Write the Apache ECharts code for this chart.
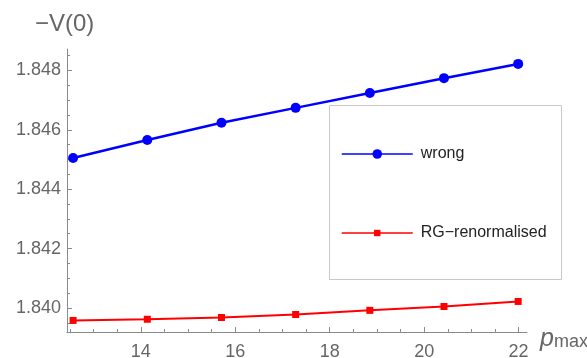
<!DOCTYPE html>
<html>
<head>
<meta charset="utf-8">
<script src="https://cdn.jsdelivr.net/npm/echarts@6/dist/echarts.min.js"></script>
<style>html,body{margin:0;padding:0;background:#fff;}#c{width:587px;height:358px;}</style>
</head>
<body>
<div id="c"></div>
<script>
const pMax = [12.566, 14.137, 15.708, 17.279, 18.850, 20.420, 21.991];
const wrongVals = [1.84505, 1.84566, 1.84624, 1.84674, 1.84724, 1.84774, 1.84822];
const rgVals = [1.83958, 1.83962, 1.83968, 1.83978, 1.83992, 1.84005, 1.84022];
const xTicks = [14, 16, 18, 20, 22];
const yTicks = [1.840, 1.842, 1.844, 1.846, 1.848];

const FONT = 'Liberation Sans, Arial, sans-serif';
const AXIS = '#8a8a8a';
const LABEL = '#666666';

const chart = echarts.init(document.getElementById('c'), null, {renderer: 'canvas'});
const legendCommon = {
  orient: 'vertical',
  left: 341,
  padding: 0,
  itemWidth: 71,
  selectedMode: false,
  textStyle: {fontFamily: FONT, fontSize: 16, color: '#222', padding: [0, 0, 0, 3]},
  lineStyle: {width: 1.5}
};
chart.setOption({
  animation: false,
  backgroundColor: '#fff',
  title: {
    text: '\u2212V(0)', left: 35, top: 12, padding: 0,
    textStyle: {fontFamily: FONT, fontSize: 24, fontWeight: 'normal', color: LABEL}
  },
  grid: {left: 67, top: 49, width: 460, height: 283, containLabel: false, outerBoundsMode: 'none'},
  legend: [
    Object.assign({}, legendCommon, {data: ['wrong'], top: 146, itemHeight: 12}),
    Object.assign({}, legendCommon, {data: ['RG\u2212renormalised'], top: 225, itemHeight: 8})
  ],
  graphic: [
    {type: 'rect', z: 0, shape: {x: 329.5, y: 105.5, width: 232, height: 174},
     style: {fill: '#fff', stroke: '#c8c8c8', lineWidth: 1}},
    {type: 'text', x: 540, y: 327, z: 10,
     style: {text: '{p|p}{m|max}', rich: {
       p: {fontFamily: FONT, fontSize: 25, fontStyle: 'italic', fill: LABEL, verticalAlign: 'bottom'},
       m: {fontFamily: FONT, fontSize: 18, fill: LABEL, verticalAlign: 'bottom', padding: [0, 0, 1, 0]}
     }}}
  ],
  xAxis: {
    type: 'value', min: 12.437, max: 22.178,
    splitLine: {show: false},
    axisLine: {show: true, lineStyle: {color: AXIS, width: 1}},
    axisTick: {show: true, inside: true, length: 5, lineStyle: {color: AXIS}, customValues: xTicks},
    minorTick: {show: true, splitNumber: 4, length: 3, lineStyle: {color: AXIS}},
    axisLabel: {customValues: xTicks, margin: 11, fontFamily: FONT, fontSize: 18, color: LABEL}
  },
  yAxis: {
    type: 'value', min: 1.839191, max: 1.848722,
    splitLine: {show: false},
    axisLine: {show: true, lineStyle: {color: AXIS, width: 1}},
    axisTick: {show: true, inside: true, length: 5, lineStyle: {color: AXIS}, customValues: yTicks},
    minorTick: {show: true, splitNumber: 4, length: 3, lineStyle: {color: AXIS}},
    axisLabel: {customValues: yTicks, margin: 6, fontFamily: FONT, fontSize: 18, color: LABEL,
      formatter: v => v.toFixed(3)}
  },
  series: [
    {name: 'wrong', type: 'line', data: pMax.map((x, i) => [x, wrongVals[i]]),
     symbol: 'circle', symbolSize: 10, color: '#0000ff',
     lineStyle: {color: '#0000ff', width: 2.5}, itemStyle: {color: '#0000ff'}},
    {name: 'RG\u2212renormalised', type: 'line', data: pMax.map((x, i) => [x, rgVals[i]]),
     symbol: 'rect', symbolSize: 7, color: '#ff0000',
     lineStyle: {color: '#ff0000', width: 2}, itemStyle: {color: '#ff0000'}}
  ]
});
</script>
</body>
</html>
